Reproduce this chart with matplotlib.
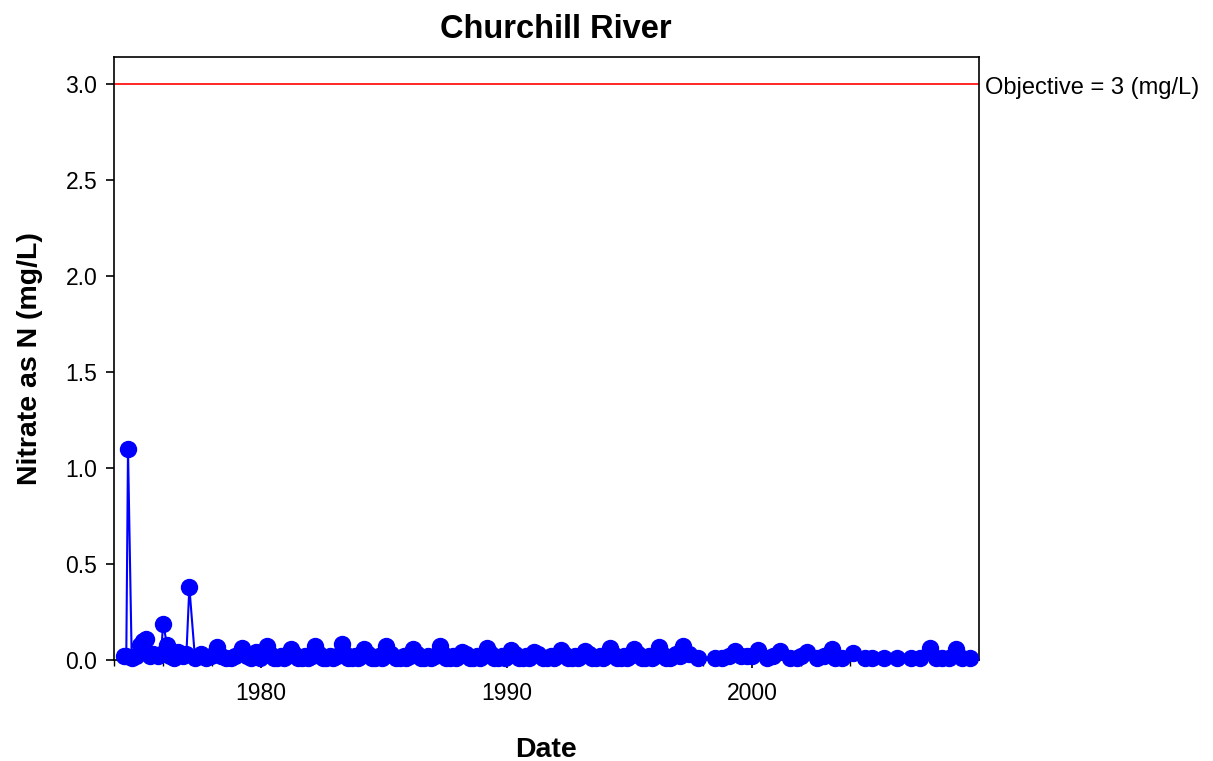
import matplotlib
matplotlib.use("Agg")
import matplotlib.pyplot as plt
import matplotlib.transforms as mtransforms
from matplotlib.ticker import MultipleLocator

plt.rcParams['font.family'] = ['Liberation Sans', 'DejaVu Sans']

# sample dates (decimal years) and nitrate values (mg/L)
dates = [
    1974.40, 1974.50, 1974.57, 1974.72, 1974.90,
    1975.05, 1975.20, 1975.32, 1975.45, 1975.60, 1975.78, 1975.92,
    1976.00, 1976.16, 1976.30, 1976.45, 1976.62, 1976.80, 1976.95,
    1977.07, 1977.30, 1977.55, 1977.75, 1977.95,
    1978.20, 1978.35, 1978.55, 1978.75, 1978.92,
    1979.20, 1979.40, 1979.60, 1979.80, 1979.95,
    1980.05, 1980.24, 1980.35, 1980.50, 1980.65, 1980.80, 1980.92,
    1981.05, 1981.20, 1981.35, 1981.50, 1981.65, 1981.80, 1981.92,
    1982.05, 1982.20, 1982.35, 1982.50, 1982.65, 1982.80, 1982.92,
    1983.08, 1983.30, 1983.42, 1983.55, 1983.70, 1983.82, 1983.94,
    1984.05, 1984.20, 1984.35, 1984.50, 1984.65, 1984.80, 1984.92,
    1985.00, 1985.10, 1985.30, 1985.50, 1985.65, 1985.80, 1985.92,
    1986.05, 1986.20, 1986.35, 1986.50, 1986.65, 1986.80, 1986.92,
    1987.08, 1987.30, 1987.42, 1987.55, 1987.70, 1987.82, 1987.94,
    1988.05, 1988.20, 1988.35, 1988.50, 1988.65, 1988.80, 1988.92,
    1989.05, 1989.20, 1989.35, 1989.50, 1989.65, 1989.80, 1989.92,
    1990.05, 1990.20, 1990.35, 1990.50, 1990.65, 1990.80, 1990.92,
    1991.00, 1991.10, 1991.30, 1991.50, 1991.65, 1991.80, 1991.92,
    1992.05, 1992.20, 1992.35, 1992.50, 1992.65, 1992.80, 1992.92,
    1993.05, 1993.20, 1993.35, 1993.50, 1993.65, 1993.80, 1993.92,
    1994.05, 1994.20, 1994.35, 1994.50, 1994.65, 1994.80, 1994.92,
    1995.05, 1995.20, 1995.35, 1995.50, 1995.65, 1995.80, 1995.92,
    1996.05, 1996.20, 1996.35, 1996.50, 1996.65, 1996.80, 1996.92,
    1997.05, 1997.20, 1997.45, 1997.80,
    1998.49, 1998.80, 1999.05, 1999.30, 1999.55, 1999.80,
    2000.00, 2000.24, 2000.60, 2000.85, 2001.14, 2001.55, 2001.84,
    2002.00, 2002.24, 2002.65, 2002.95, 2003.27, 2003.40, 2003.67,
    2004.10, 2004.60, 2004.90, 2005.40, 2005.90, 2006.50, 2006.86,
    2007.27, 2007.50, 2007.76, 2008.05, 2008.30, 2008.57, 2008.90,
]
nitrate = [
    0.02, 0.02, 1.10, 0.01, 0.02,
    0.08, 0.10, 0.11, 0.02, 0.03, 0.02, 0.03,
    0.19, 0.08, 0.02, 0.01, 0.04, 0.02, 0.03,
    0.38, 0.01, 0.03, 0.01, 0.02,
    0.07, 0.02, 0.01, 0.01, 0.02,
    0.06, 0.02, 0.01, 0.04, 0.01,
    0.02, 0.075, 0.03, 0.01, 0.01, 0.02, 0.01,
    0.02, 0.055, 0.03, 0.01, 0.01, 0.02, 0.01,
    0.02, 0.075, 0.03, 0.01, 0.01, 0.02, 0.01,
    0.02, 0.085, 0.03, 0.01, 0.01, 0.02, 0.01,
    0.02, 0.055, 0.03, 0.01, 0.01, 0.02, 0.01,
    0.02, 0.075, 0.03, 0.01, 0.01, 0.02, 0.01,
    0.02, 0.056, 0.03, 0.01, 0.01, 0.02, 0.01,
    0.02, 0.074, 0.03, 0.01, 0.01, 0.02, 0.01,
    0.02, 0.04, 0.03, 0.01, 0.01, 0.02, 0.01,
    0.02, 0.06, 0.03, 0.01, 0.01, 0.02, 0.01,
    0.02, 0.05, 0.03, 0.01, 0.01, 0.02, 0.01,
    0.02, 0.04, 0.03, 0.01, 0.01, 0.02, 0.01,
    0.02, 0.05, 0.03, 0.01, 0.01, 0.02, 0.01,
    0.02, 0.045, 0.03, 0.01, 0.01, 0.02, 0.01,
    0.02, 0.06, 0.03, 0.01, 0.01, 0.02, 0.01,
    0.02, 0.057, 0.03, 0.01, 0.01, 0.02, 0.01,
    0.02, 0.07, 0.03, 0.01, 0.01, 0.02, 0.03,
    0.02, 0.075, 0.03, 0.01,
    0.01, 0.01, 0.02, 0.045, 0.02, 0.02,
    0.02, 0.05, 0.01, 0.02, 0.045, 0.01, 0.01,
    0.02, 0.04, 0.01, 0.02, 0.055, 0.01, 0.01,
    0.035, 0.01, 0.01, 0.01, 0.01, 0.01, 0.01,
    0.065, 0.01, 0.01, 0.01, 0.055, 0.01, 0.01,
]
objective = 3.0

fig = plt.figure(figsize=(12.13, 7.61), dpi=100)
ax = fig.add_axes([0.094, 0.1327, 0.713, 0.7923])

ax.plot(dates, nitrate, color='blue', lw=1.5, marker='o', markersize=11.5,
        markeredgecolor='blue', markerfacecolor='blue', clip_on=False, zorder=3)
ax.axhline(objective, color='red', lw=1.2, zorder=2)

trans = mtransforms.blended_transform_factory(ax.transAxes, ax.transData)
ax.text(1.007, objective - 0.02, 'Objective = 3 (mg/L)', transform=trans,
        va='center', ha='left', fontsize=17)

ax.set_xlim(1974.0, 2009.25)
ax.set_ylim(0, 3.14)
ax.xaxis.set_major_locator(MultipleLocator(10))
ax.xaxis.set_minor_locator(MultipleLocator(2))
ax.yaxis.set_major_locator(MultipleLocator(0.5))
ax.yaxis.set_major_formatter(plt.FormatStrFormatter('%.1f'))

ax.tick_params(axis='both', which='major', direction='out', length=6, width=1.2,
               labelsize=16.5, pad=6)
ax.tick_params(axis='x', which='minor', direction='out', length=4, width=1)
ax.tick_params(axis='x', which='major', pad=10)
for s in ax.spines.values():
    s.set_linewidth(1.2)

ax.set_title('Churchill River', fontsize=23.5, fontweight='bold', pad=14, x=0.511)
ax.set_xlabel('Date', fontsize=20.5, fontweight='bold', labelpad=23)
ax.set_ylabel('Nitrate as N (mg/L)', fontsize=20.5, fontweight='bold', labelpad=16)

fig.savefig('out.png', dpi=100)
